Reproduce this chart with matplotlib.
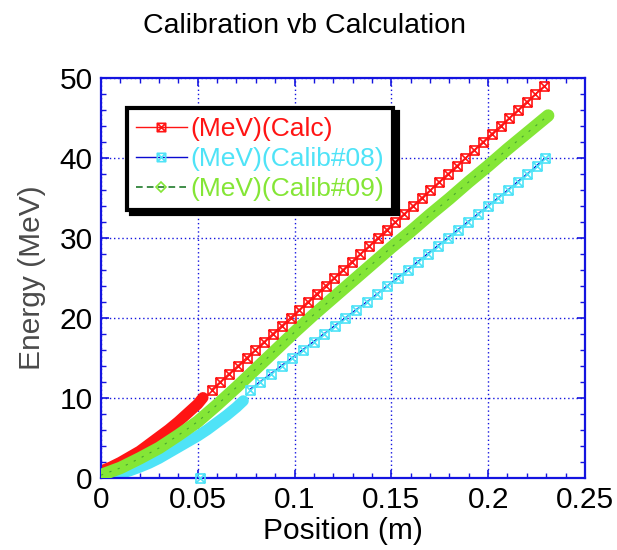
import matplotlib
matplotlib.use("Agg")
import matplotlib.pyplot as plt
from matplotlib.path import Path
from matplotlib.lines import Line2D
from matplotlib.ticker import MultipleLocator

plt.rcParams['font.family'] = ['Liberation Sans', 'DejaVu Sans']

# ---- data ----
# Calc (red): dense part then one point per MeV
calc_dense_x = [0.0, 0.005, 0.01, 0.015, 0.02, 0.025, 0.03, 0.035, 0.04, 0.045, 0.05, 0.0527]
calc_dense_e = [0.8, 1.3, 1.9, 2.6, 3.3, 4.2, 5.1, 6.0, 7.0, 8.1, 9.2, 10.0]
calc_x = [0.0572, 0.0617, 0.0662, 0.0708, 0.0753, 0.0798, 0.0843, 0.0888, 0.0934, 0.0979,
          0.1024, 0.1069, 0.1114, 0.1160, 0.1205, 0.1250, 0.1295, 0.1340, 0.1386, 0.1431,
          0.1476, 0.1521, 0.1566, 0.1612, 0.1657, 0.1702, 0.1747, 0.1792, 0.1838, 0.1883,
          0.1928, 0.1973, 0.2018, 0.2064, 0.2109, 0.2154, 0.2199, 0.2244, 0.2290]
calc_e = [11, 12, 13, 14, 15, 16, 17, 18, 19, 20, 21, 22, 23, 24, 25, 26, 27, 28, 29, 30,
          31, 32, 33, 34, 35, 36, 37, 38, 39, 40, 41, 42, 43, 44, 45, 46, 47, 48, 49]

# Calib#08 (cyan)
c08_dense_x = [0.0, 0.005, 0.01, 0.015, 0.02, 0.025, 0.03, 0.035, 0.04, 0.045, 0.05,
               0.055, 0.06, 0.065, 0.07, 0.0735]
c08_dense_e = [0.0, 0.2, 0.5, 0.85, 1.3, 1.8, 2.4, 3.1, 3.8, 4.5, 5.2, 6.0, 6.9, 7.8, 8.8, 9.6]
c08_x = [0.0768, 0.0823, 0.0878, 0.0933, 0.0988, 0.1043, 0.1098, 0.1153, 0.1208, 0.1263,
         0.1318, 0.1375, 0.1428, 0.1480, 0.1532, 0.1585, 0.1636, 0.1688, 0.1740, 0.1792,
         0.1843, 0.1896, 0.1948, 0.2000, 0.2052, 0.2103, 0.2152, 0.2202, 0.2250, 0.2295]
c08_e = [11, 12, 13, 14, 15, 16, 17, 18, 19, 20, 21, 22, 23, 24, 25, 26, 27, 28, 29, 30,
         31, 32, 33, 34, 35, 36, 37, 38, 39, 40]
c08_stray_x = [0.051]
c08_stray_e = [0.0]

# Calib#09 (green)
c09_x = [0.0, 0.01, 0.02, 0.03, 0.04, 0.05, 0.06, 0.07, 0.08, 0.09, 0.10, 0.11, 0.12,
         0.13, 0.14, 0.15, 0.16, 0.17, 0.18, 0.19, 0.20, 0.21, 0.22, 0.231]
c09_e = [0.3, 1.2, 2.4, 3.7, 5.3, 7.0, 9.1, 11.3, 13.6, 15.9, 18.2, 20.4, 22.5,
         24.6, 26.7, 28.8, 30.8, 32.9, 34.9, 37.0, 39.0, 41.1, 43.1, 45.3]

labels = ['(MeV)(Calc)', '(MeV)(Calib#08)', '(MeV)(Calib#09)']

RED = '#ff1414'
CYAN = '#4fe3f7'
GREEN = '#84e636'
BLUE = '#0a0ad0'
DKGREEN = '#1f7a2a'
AXBLUE = '#1414e0'

# square-with-X marker
box_x = Path([(-1, -1), (1, -1), (1, 1), (-1, 1), (-1, -1), (-1, -1), (1, 1), (-1, 1), (1, -1)],
             [Path.MOVETO, Path.LINETO, Path.LINETO, Path.LINETO, Path.CLOSEPOLY,
              Path.MOVETO, Path.LINETO, Path.MOVETO, Path.LINETO])

fig = plt.figure(figsize=(6.17, 5.5), dpi=100)
ax = fig.add_axes([0.1637, 0.1318, 0.7843, 0.7264])

# green dense band
ax.plot(c09_x, c09_e, color=GREEN, lw=9, solid_capstyle='round', zorder=3)
ax.plot(c09_x, c09_e, color=DKGREEN, lw=0.8, ls=(0, (2, 6)), alpha=0.6, zorder=4)

# cyan
ax.plot(c08_dense_x, c08_dense_e, color=CYAN, lw=8, solid_capstyle='round', zorder=2)
ax.plot(c08_x, c08_e, color=BLUE, lw=1.0, zorder=3)
ax.plot(c08_x, c08_e, ls='none', marker=box_x, ms=6.5, mec=CYAN, mfc='none', mew=1.2, zorder=3)
ax.plot(c08_stray_x, c08_stray_e, ls='none', marker=box_x, ms=6.5, mec=CYAN, mfc='none',
        mew=1.2, zorder=6, clip_on=False)

# red
ax.plot(calc_dense_x, calc_dense_e, color=RED, lw=8, solid_capstyle='round', zorder=2.5)
ax.plot(calc_x, calc_e, color=RED, lw=1.0, zorder=4)
ax.plot(calc_x, calc_e, ls='none', marker=box_x, ms=6.5, mec=RED, mfc='none', mew=1.2, zorder=4)

ax.set_xlim(0, 0.25)
ax.set_ylim(0, 50)
ax.xaxis.set_major_locator(MultipleLocator(0.05))
ax.xaxis.set_minor_locator(MultipleLocator(0.01))
ax.yaxis.set_major_locator(MultipleLocator(10))
ax.yaxis.set_minor_locator(MultipleLocator(2))
ax.set_xticks([0, 0.05, 0.1, 0.15, 0.2, 0.25])
ax.set_xticklabels(['0', '0.05', '0.1', '0.15', '0.2', '0.25'])

ax.grid(True, which='major', color=AXBLUE, ls=(0, (1, 2)), lw=1.0)
for s in ax.spines.values():
    s.set_color(AXBLUE)
    s.set_linewidth(1.6)
ax.tick_params(which='both', direction='in', top=True, right=True, color=AXBLUE)
ax.tick_params(which='major', length=6, width=1.2, labelsize=21.5, pad=6)
ax.tick_params(which='minor', length=3.5, width=1.0)

ax.set_xlabel('Position (m)', fontsize=21.5, labelpad=2)
ax.set_ylabel('Energy (MeV)', fontsize=21.5, color='#4a4a4a', labelpad=10)
fig.text(0.494, 0.952, 'Calibration vb Calculation', fontsize=20.5, ha='center', va='center')

handles = [
    Line2D([], [], color=RED, lw=1.0, marker=box_x, ms=6, mec=RED, mfc='none', mew=1.2),
    Line2D([], [], color=BLUE, lw=1.0, marker=box_x, ms=6, mec=CYAN, mfc='none', mew=1.2),
    Line2D([], [], color=DKGREEN, lw=1.2, ls=(0, (4, 2.5)), marker='D', ms=5, mec=GREEN,
           mfc='none', mew=1.2),
]
leg = ax.legend(handles, labels, loc='upper left', bbox_to_anchor=(0.054, 0.925),
                borderaxespad=0, fontsize=19, labelcolor=[RED, CYAN, GREEN],
                frameon=True, fancybox=False, handlelength=1.9, handletextpad=0.15,
                labelspacing=0.22, borderpad=0.35,
                shadow={'color': 'black', 'alpha': 1.0, 'ox': 3, 'oy': -3})
leg.get_frame().set_edgecolor('black')
leg.get_frame().set_linewidth(3)
leg.set_zorder(10)

fig.savefig('out.png', dpi=100)
